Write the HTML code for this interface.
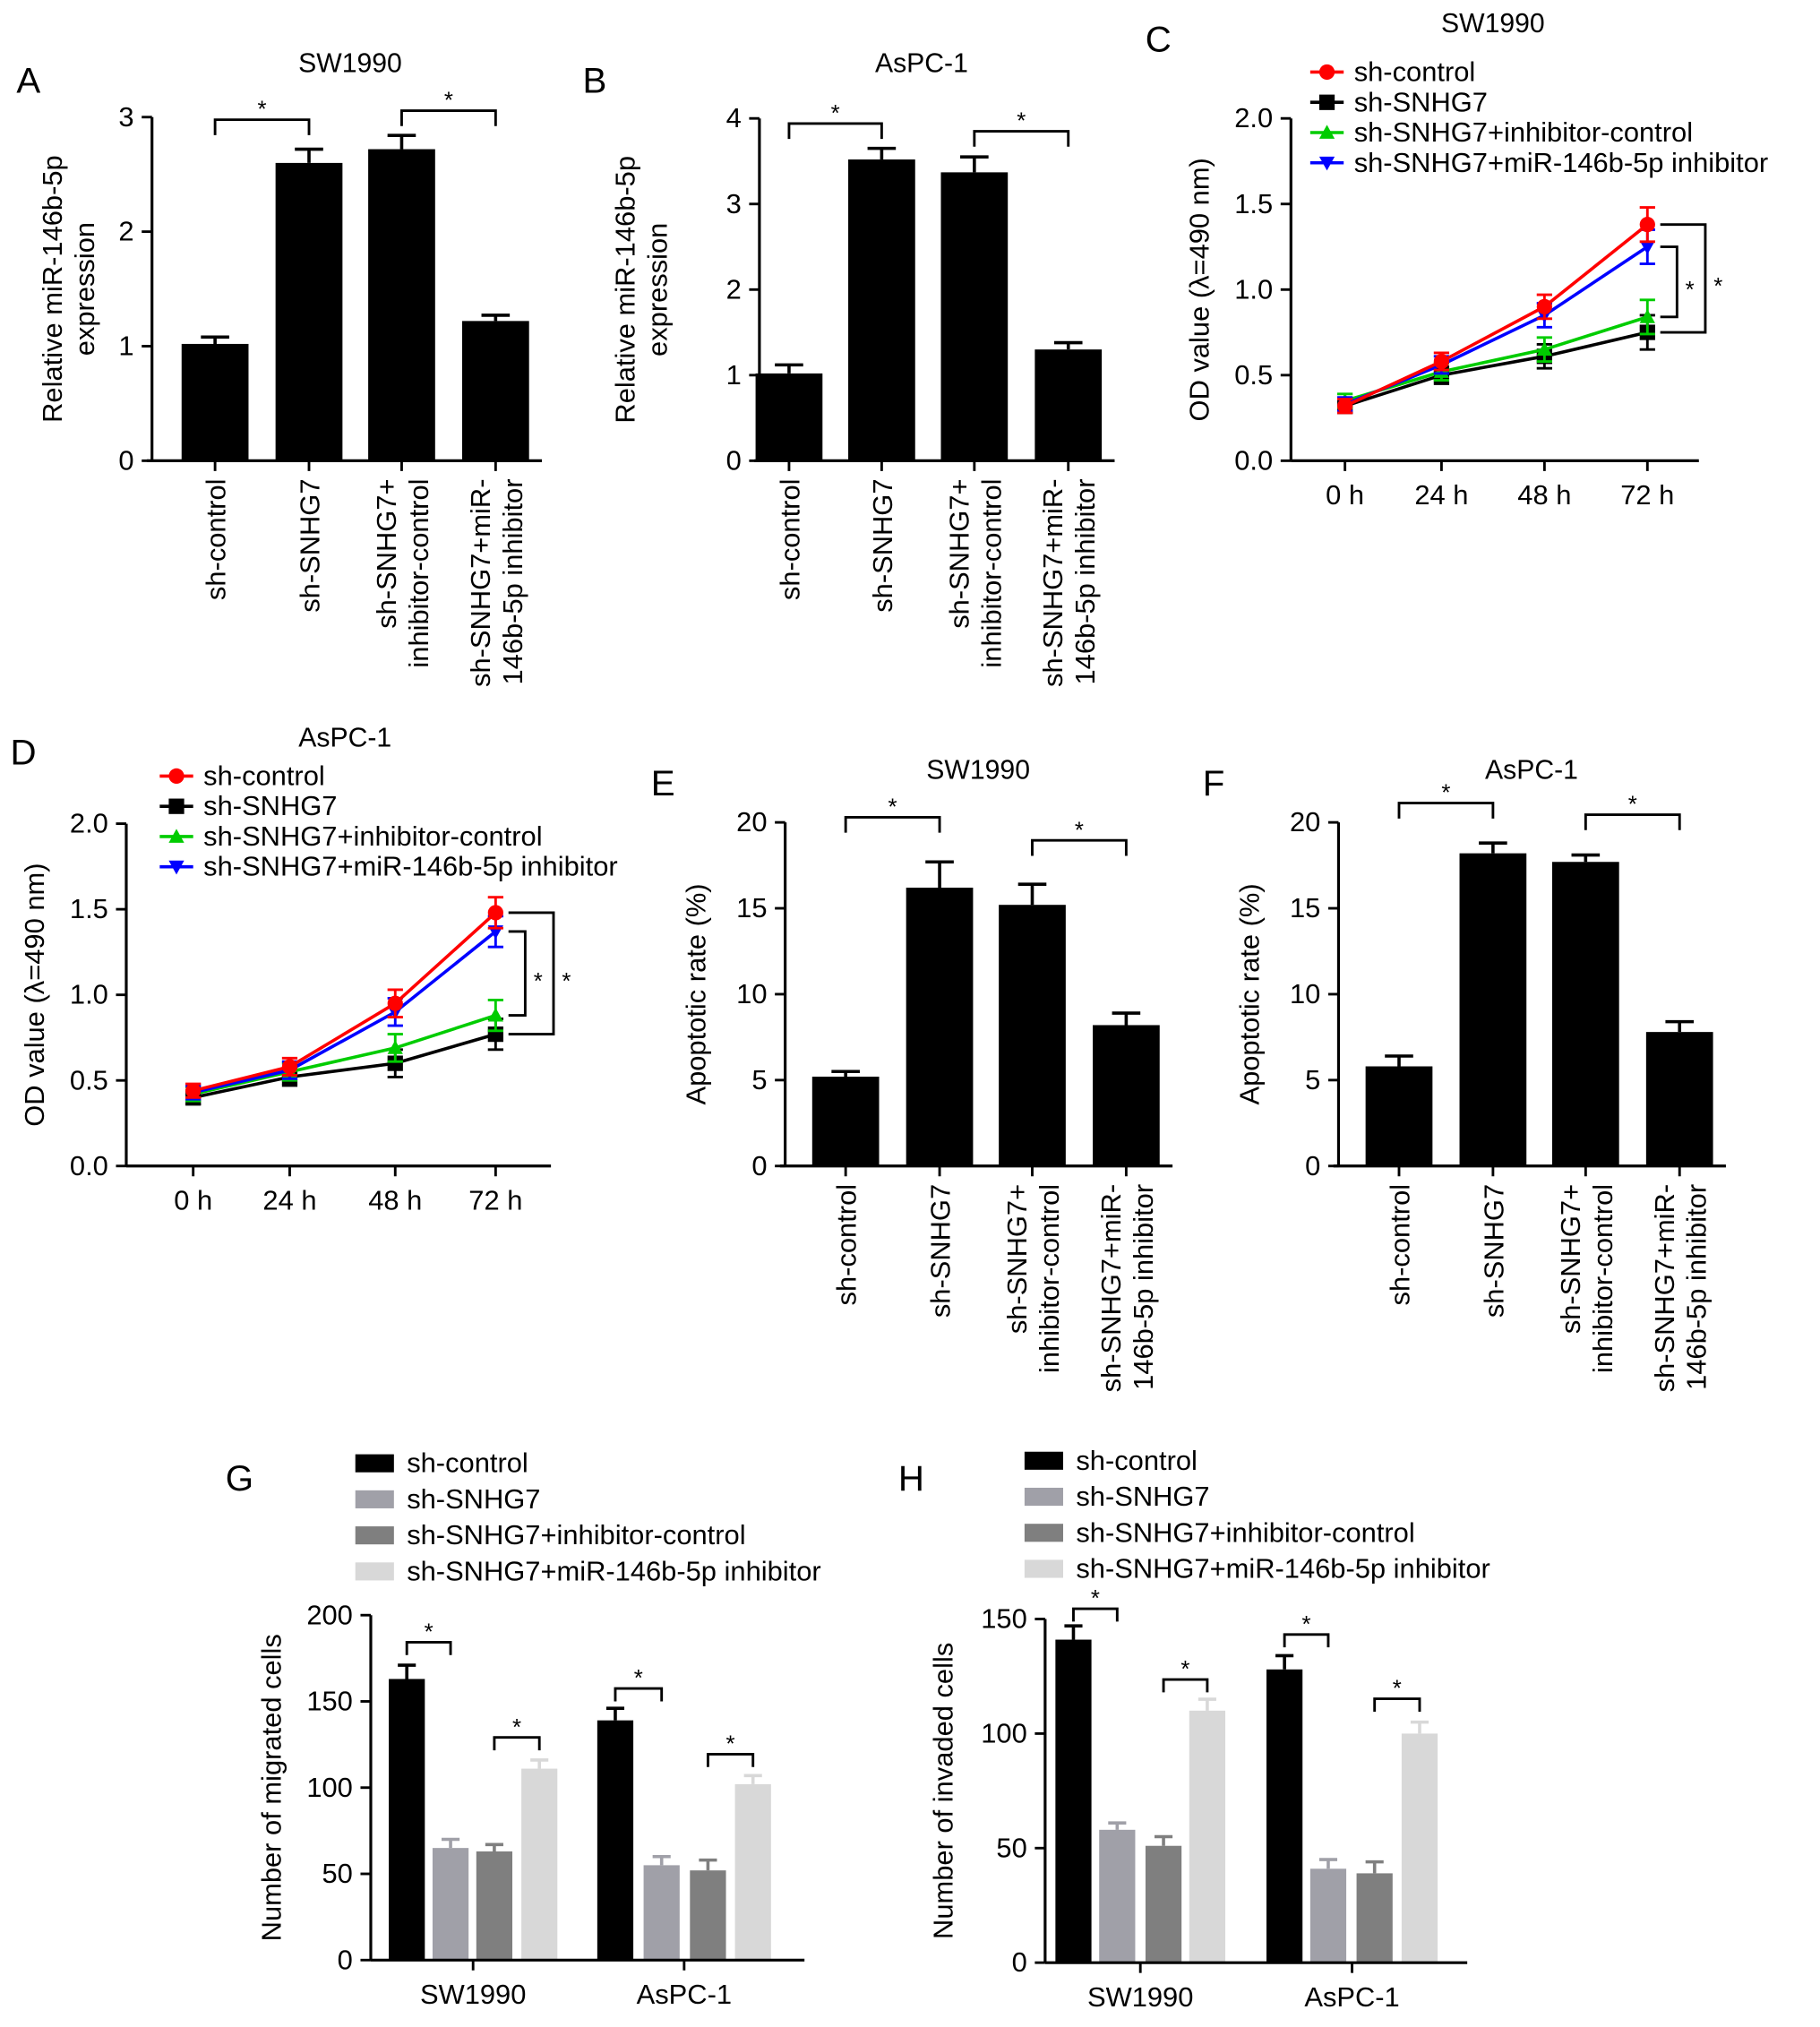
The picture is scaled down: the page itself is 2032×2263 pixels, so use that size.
<!DOCTYPE html>
<html><head><meta charset="utf-8"><style>
html,body{margin:0;padding:0;background:#fff;}
svg{display:block;font-family:"Liberation Sans",Arial,sans-serif;}
</style></head><body>
<svg id="fig" width="2032" height="2263" viewBox="0 0 1414 1575" xmlns="http://www.w3.org/2000/svg"></svg>
<script>
// ---- data ----
const barCats = ["sh-control","sh-SNHG7","sh-SNHG7+|inhibitor-control","sh-SNHG7+miR-|146b-5p inhibitor"];
const aVals = [1.02,2.6,2.72,1.22];
const aErr = [0.06,0.12,0.12,0.05];
const bVals = [1.02,3.52,3.37,1.3];
const bErr = [0.1,0.13,0.18,0.08];
const eVals = [5.2,16.2,15.2,8.2];
const eErr = [0.3,1.5,1.2,0.7];
const fVals = [5.8,18.2,17.7,7.8];
const fErr = [0.6,0.6,0.4,0.6];
const timeLabels = ["0 h","24 h","48 h","72 h"];
const seriesNames = ["sh-control","sh-SNHG7","sh-SNHG7+inhibitor-control","sh-SNHG7+miR-146b-5p inhibitor"];
const cRed = [0.32,0.58,0.9,1.38];
const cBlack = [0.32,0.5,0.61,0.75];
const cGreen = [0.35,0.52,0.65,0.84];
const cBlue = [0.33,0.56,0.85,1.25];
const cErr = [0.04,0.05,0.07,0.1];
const dRed = [0.44,0.58,0.95,1.48];
const dBlack = [0.4,0.52,0.6,0.77];
const dGreen = [0.42,0.55,0.69,0.88];
const dBlue = [0.43,0.56,0.9,1.37];
const dErr = [0.04,0.05,0.08,0.09];
const groupCats = ["SW1990","AsPC-1"];
const gVals = [[163,65,63,111],[139,55,52,102]];
const gErr = [[8,5,4,5],[7,5,6,5]];
const hVals = [[141,58,51,110],[128,41,39,100]];
const hErr = [[6,3,4,5],[6,4,5,5]];
const odTicks = [0,0.5,1.0,1.5,2.0];

const NS="http://www.w3.org/2000/svg";
const svg=document.getElementById('fig');
const FS=21.5;
function mk(tag,attrs,parent){const e=document.createElementNS(NS,tag);for(const k in attrs)e.setAttribute(k,attrs[k]);(parent||svg).appendChild(e);return e;}
function txt(s,x,y,size,anchor,parent,extra){const t=mk('text',Object.assign({x:x,y:y,'font-size':size,'text-anchor':anchor||'middle',fill:'#000'},extra||{}),parent);t.textContent=s;return t;}
function yAxis(g,x,y0,y1,vmax,ticks,fmt){
  const ax=mk('line',{x1:x,y1:y0,x2:x,y2:y1,stroke:'#000','stroke-width':2.2},g);
  
  
  ticks.forEach(v=>{const y=y0-(y0-y1)*v/vmax;mk('line',{x1:x-8,y1:y,x2:x,y2:y,stroke:'#000','stroke-width':2},g);
    const t=txt(fmt(v),x-14,y+7,FS,'end',g);
    
    });
}
function bracket(g,x1,x2,y,h){mk('path',{d:`M${x1},${y+h}V${y}H${x2}V${y+h}`,fill:'none',stroke:'#000','stroke-width':2},g);
  const s=txt('*',(x1+x2)/2,y-2,18,'middle',g);
  
  }
function rotLabel(g,lines,x,y,size){lines.forEach((l,i)=>{const xx=x+(i-(lines.length-1)/2)*25+8;const t=txt(l,xx,y,size,'end',g,{transform:`rotate(-90 ${xx} ${y})`});
  
  });}

function barPanel(name,letter,lx,ly,title,tx,ty,axX,y0,y1,vmax,ticks,centers,vals,errs,ylab,ylx,brs){
  const g=mk('g',{});
  
  
  const L=txt(letter,lx,ly,28,'middle',g);
  const T=txt(title,tx,ty,21,'middle',g);
  const sc=v=>y0-(y0-y1)*v/vmax;
  vals.forEach((v,i)=>{const c=centers[i];
    const b=mk('rect',{x:c-26,y:sc(v),width:52,height:y0-sc(v),fill:'#000'},g);
    
    
    const ye=sc(v+errs[i]);mk('path',{d:`M${c},${sc(v)}V${ye}M${c-11},${ye}H${c+11}`,stroke:'#000','stroke-width':2.5,fill:'none'},g);
    mk('line',{x1:c,y1:y0,x2:c,y2:y0+8,stroke:'#000','stroke-width':2},g);
    rotLabel(g,barCats[i].split('|'),c,y0+14,FS);
  });
  const xa=mk('line',{x1:axX-4,y1:y0,x2:centers[3]+36,y2:y0,stroke:'#000','stroke-width':2.2},g);
  
  yAxis(g,axX,y0,y1,vmax,ticks,v=>String(v));
  const yl=ylab.split('|');yl.forEach((l,i)=>{const xx=ylx+i*25;const t=txt(l,xx,(y0+y1)/2,FS,'middle',g,{transform:`rotate(-90 ${xx} ${(y0+y1)/2})`});
    });
  brs.forEach(b=>bracket(g,centers[b[0]],centers[b[1]],b[2],12));
}
barPanel('panel-a','A',22,72,'SW1990',272,56,118,358,91,3,[0,1,2,3],[167,240,312,385],aVals,aErr,'Relative miR-146b-5p|expression',48,[[0,1,93],[2,3,86]]);
barPanel('panel-b','B',462,72,'AsPC-1',716,56,590,358,92,4,[0,1,2,3,4],[613,685,757,830],bVals,bErr,'Relative miR-146b-5p|expression',493,[[0,1,96],[2,3,102]]);
barPanel('panel-e','E',515,618,'SW1990',760,605,610,906,639,20,[0,5,10,15,20],[657,730,802,875],eVals,eErr,'Apoptotic rate (%)',548,[[0,1,635],[2,3,653]]);
barPanel('panel-f','F',943,618,'AsPC-1',1190,605,1040,906,639,20,[0,5,10,15,20],[1087,1160,1232,1305],fVals,fErr,'Apoptotic rate (%)',978,[[0,1,624],[2,3,633]]);

const lineColors=['#ff0000','#000000','#00cc00','#0000ff'];
function marker(g,i,x,y,s){const c=lineColors[i];
  if(i===0)return mk('circle',{cx:x,cy:y,r:s,fill:c},g);
  if(i===1)return mk('rect',{x:x-s,y:y-s,width:2*s,height:2*s,fill:c},g);
  if(i===2)return mk('path',{d:`M${x},${y-s}L${x+s},${y+s*0.8}L${x-s},${y+s*0.8}Z`,fill:c},g);
  return mk('path',{d:`M${x},${y+s}L${x+s},${y-s*0.8}L${x-s},${y-s*0.8}Z`,fill:c},g);}
function linePanel(name,letter,lx,ly,title,tx,ty,axX,y0,y1,xs,xEnd,series,err,legX,legY,br1,br2){
  const g=mk('g',{});
  
  
  const L=txt(letter,lx,ly,28,'middle',g);
  const T=txt(title,tx,ty,21,'middle',g);
  const sc=v=>y0-(y0-y1)*v/2;
  yAxis(g,axX,y0,y1,2,odTicks,v=>v.toFixed(1));
  const xa=mk('line',{x1:axX,y1:y0,x2:xEnd,y2:y0,stroke:'#000','stroke-width':2.2},g);
  
  xs.forEach((x,i)=>{mk('line',{x1:x,y1:y0,x2:x,y2:y0+8,stroke:'#000','stroke-width':2},g);
    const t=txt(timeLabels[i],x,y0+34,FS,'middle',g);});
  const t=txt('OD value (λ=490 nm)',axX-64,(y0+y1)/2,FS,'middle',g,{transform:`rotate(-90 ${axX-64} ${(y0+y1)/2})`});
  
  [1,2,3,0].forEach(si=>{const vals=series[si];
    const p=mk('polyline',{points:vals.map((v,i)=>xs[i]+','+sc(v)).join(' '),fill:'none',stroke:lineColors[si],'stroke-width':2.5},g);
    
    vals.forEach((v,i)=>{const x=xs[i];mk('path',{d:`M${x},${sc(v-err[i])}V${sc(v+err[i])}M${x-6},${sc(v-err[i])}H${x+6}M${x-6},${sc(v+err[i])}H${x+6}`,stroke:lineColors[si],'stroke-width':2,fill:'none'},g);
      const m=marker(g,si,x,sc(v),6);});
  });
  seriesNames.forEach((n,i)=>{const y=legY+i*23.5;
    mk('line',{x1:legX,y1:y,x2:legX+26,y2:y,stroke:lineColors[i],'stroke-width':2.5},g);
    const m=marker(g,i,legX+13,y,6);
    const lt=txt(n,legX+34,y+7,FS,'start',g);});
  const xl=xs[3];
  [[br1,series[3][3],series[2][3]],[br2,series[0][3],series[1][3]]].forEach(b=>{
    mk('path',{d:`M${xl+10},${sc(b[1])}H${b[0]}V${sc(b[2])}H${xl+10}`,fill:'none',stroke:'#000','stroke-width':2},g);
    const s=txt('*',b[0]+10,(sc(b[1])+sc(b[2]))/2+12,18,'middle',g);});
}
linePanel('panel-c','C',900,40,'SW1990',1160,25,1003,358,92,[1045,1120,1200,1280],1320,[cRed,cBlack,cGreen,cBlue],cErr,1018,56,1303,1325);
linePanel('panel-d','D',18,594,'AsPC-1',268,580,98,906,640,[150,225,307,385],428,[dRed,dBlack,dGreen,dBlue],dErr,124,603,408,430);

const barColors=['#000000','#a0a0a8','#7f7f7f','#d8d8d8'];
function groupPanel(name,letter,lx,ly,axX,y0,y1,vmax,ticks,centers,vals,errs,ylab,ylx,legX,legY,brs,xEnd){
  const g=mk('g',{});
  
  
  const L=txt(letter,lx,ly,28,'middle',g);
  const sc=v=>y0-(y0-y1)*v/vmax;
  seriesNames.forEach((n,i)=>{const y=legY+i*28;
    const sw=mk('rect',{x:legX,y:y-7,width:30,height:14,fill:barColors[i]},g);
    const lt=txt(n,legX+40,y+7,FS,'start',g);});
  vals.forEach((grp,gi)=>grp.forEach((v,i)=>{const c=centers[gi][i];
    const b=mk('rect',{x:c-14,y:sc(v),width:28,height:y0-sc(v),fill:barColors[i]},g);
    
    const ye=sc(v+errs[gi][i]);mk('path',{d:`M${c},${sc(v)}V${ye}M${c-7},${ye}H${c+7}`,stroke:barColors[i],'stroke-width':2.5,fill:'none'},g);
  }));
  groupCats.forEach((n,gi)=>{const cx=(centers[gi][0]+centers[gi][3])/2;
    mk('line',{x1:cx,y1:y0,x2:cx,y2:y0+8,stroke:'#000','stroke-width':2},g);
    const t=txt(n,cx,y0+34,FS,'middle',g);});
  const xa=mk('line',{x1:axX,y1:y0,x2:xEnd,y2:y0,stroke:'#000','stroke-width':2.2},g);
  
  yAxis(g,axX,y0,y1,vmax,ticks,v=>String(v));
  const t=txt(ylab,ylx,(y0+y1)/2,FS,'middle',g,{transform:`rotate(-90 ${ylx} ${(y0+y1)/2})`});
  
  brs.forEach(b=>bracket(g,centers[b[0]][b[1]],centers[b[0]][b[2]],b[3],10));
}
groupPanel('panel-g','G',186,1158,288,1523,1255,200,[0,50,100,150,200],[[316,350,384,419],[478,514,550,585]],gVals,gErr,'Number of migrated cells',218,276,1137,[[0,0,1,1276],[0,2,3,1350],[1,0,1,1312],[1,2,3,1363]],625);
groupPanel('panel-h','H',708,1158,812,1525,1258,150,[0,50,100,150],[[834,868,904,938],[998,1032,1068,1103]],hVals,hErr,'Number of invaded cells',740,796,1135,[[0,0,1,1250],[0,2,3,1305],[1,0,1,1270],[1,2,3,1320]],1140);
</script>
</body></html>
